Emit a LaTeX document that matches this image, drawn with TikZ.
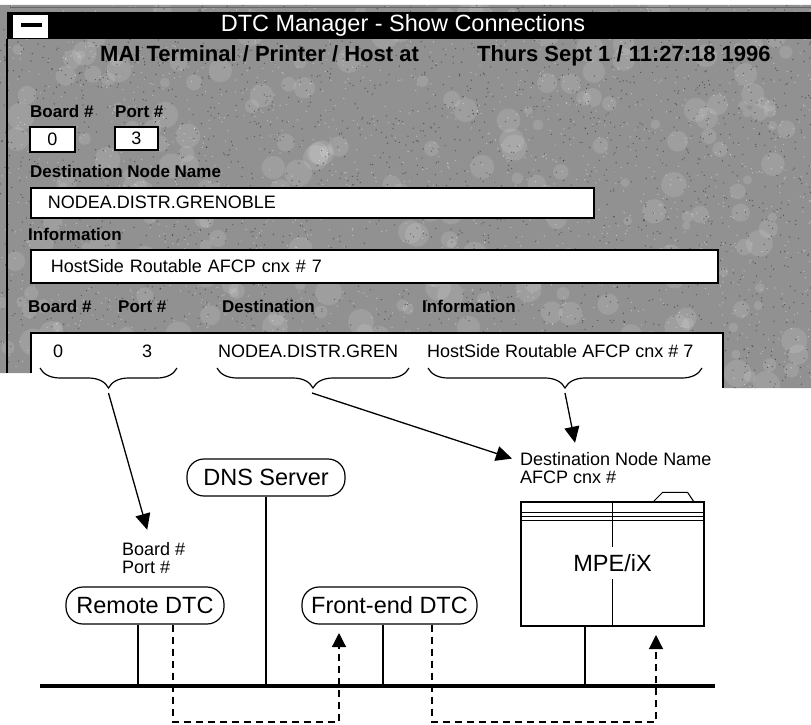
\documentclass[tikz,border=0pt]{standalone}
\usepackage{fontspec}
\setmainfont{Liberation Sans}
\usetikzlibrary{arrows.meta,decorations.pathreplacing,positioning}

\begin{document}
\begin{tikzpicture}[x=1pt,y=-1pt,
    headlbl/.style={inner sep=0pt, anchor=base west, font=\fontsize{17}{17}\selectfont\bfseries},
    plain/.style={inner sep=0pt, anchor=base west, font=\fontsize{18}{18}\selectfont},
    field/.style={draw=black, fill=white, line width=1.6pt, inner ysep=0pt, font=\fontsize{18}{18}\selectfont},
    pill/.style={draw, rounded corners=17pt, minimum height=37pt, inner xsep=8pt, line width=1.2pt, font=\fontsize{23.5}{23.5}\selectfont},
    tiparrow/.style={-{Triangle[length=16pt,width=15pt]}, line width=1.3pt},
    loopline/.style={dash pattern=on 7pt off 5pt, line width=1.2pt, -{Triangle[length=14pt,width=14pt]}},
    bracemark/.style={decorate, decoration={brace, amplitude=20pt}, line width=1.2pt}]

    \definecolor{panel}{gray}{0.57}
    \useasboundingbox (0,0) rectangle (811,725);

    % Window panel with its scanned texture
    \begin{scope}
        \clip (0,5) -- (811,5) -- (811,388) -- (723,388) -- (723,333) -- (31,333) -- (31,373) -- (0,373) -- cycle;
        \fill[panel] (0,0) rectangle (811,400);
        \pgfmathsetseed{17}
        \foreach \i in {1,...,260} {
            \pgfmathsetmacro{\px}{811*rnd}
            \pgfmathsetmacro{\py}{5+385*rnd}
            \pgfmathsetmacro{\pr}{4+10*rnd}
            \fill[white, opacity=0.12] (\px,\py) circle [radius=\pr pt];
        }
        \foreach \i in {1,...,2500} {
            \pgfmathsetmacro{\px}{811*rnd}
            \pgfmathsetmacro{\py}{5+385*rnd}
            \fill[black, opacity=0.4] (\px,\py) circle [radius=0.7pt];
        }
        \foreach \i in {1,...,1800} {
            \pgfmathsetmacro{\px}{811*rnd}
            \pgfmathsetmacro{\py}{5+385*rnd}
            \fill[white, opacity=0.4] (\px,\py) circle [radius=0.7pt];
        }
    \end{scope}

    % Title bar
    \draw[black!60, line width=0.6pt] (10,7) -- (811,7);
    \fill[black] (7,12) rectangle (811,39);
    \node[fill=white, minimum width=35pt, minimum height=23pt, inner sep=0pt] (menu) at (30.5,26.5) {};
    \fill[black] (21,23.5) rectangle (42,27.5);
    \node[text=white, inner sep=0pt, anchor=base, font=\fontsize{23.5}{23.5}\selectfont] (title) at (403,32) {DTC Manager - Show Connections};
    \draw[line width=1.4pt] (7,39) -- (7,373);

    % Header line
    \node[headlbl, font=\fontsize{22}{22}\selectfont\bfseries] (mai) at (100,62) {MAI Terminal / Printer / Host at};
    \node[headlbl, font=\fontsize{22}{22}\selectfont\bfseries] (stamp) at (477,62) {Thurs Sept 1 / 11:27:18 1996};

    % Input fields
    \node[headlbl] (brdhead) at (30,117) {Board \#};
    \node[headlbl] (prthead) at (115,117) {Port \#};
    \node[field, minimum width=45pt, minimum height=25pt] (brdbox) at (52.5,139.5) {0};
    \node[field, minimum width=43pt, minimum height=23pt] (prtbox) at (136.5,138.5) {3};

    \node[headlbl] (dsthead) at (30,177) {Destination Node Name};
    \node[field, anchor=north west, minimum height=30pt, text width=529pt, inner xsep=17pt, align=left] (dstbox) at (30,187) {NODEA.DISTR.GRENOBLE};

    \node[headlbl] (infhead) at (28,240) {Information};
    \node[field, anchor=north west, minimum height=33pt, text width=647pt, inner xsep=20pt, align=left] (infbox) at (30,249) {HostSide Routable AFCP cnx \# 7};

    % Connection list
    \node[headlbl] (colbrd) at (28,312) {Board \#};
    \node[headlbl] (colprt) at (118,312) {Port \#};
    \node[headlbl] (coldst) at (222,312) {Destination};
    \node[headlbl] (colinf) at (422,312) {Information};
    \draw[line width=1.6pt] (31,373) -- (31,333) -- (723,333) -- (723,388);

    \node[plain] (rowbrd) at (53,357) {0};
    \node[plain] (rowprt) at (142,357) {3};
    \node[plain] (rowdst) at (218,357) {NODEA.DISTR.GREN};
    \node[plain] (rowinf) at (427,357) {HostSide Routable AFCP cnx \# 7};

    % Braces under the row
    \draw[bracemark] (177,368) -- (40,368);
    \draw[bracemark] (409,368) -- (217,368);
    \draw[bracemark] (702,368) -- (428,368);
    \coordinate (brA) at (108.5,393);
    \coordinate (brB) at (312,393);
    \coordinate (brC) at (565,393);

    % Labels in the network view
    \node[plain] (brdlbl) at (122,555) {Board \#};
    \node[plain] (prtlbl) at (122,573) {Port \#};
    \node[plain] (dstlbl) at (520,465) {Destination Node Name};
    \node[plain] (cnxlbl) at (520,483) {AFCP cnx \#};

    \draw[tiparrow] (brA) -- ([xshift=-6.5pt,yshift=12pt]brdlbl.north);
    \draw[tiparrow] (brB) -- ([xshift=-8pt]dstlbl.west);
    \draw[tiparrow] (brC) -- ([xshift=55pt,yshift=9pt]dstlbl.north west);

    % Network nodes
    \node[pill, minimum width=158pt] (dns) at (266,477.5) {DNS Server};
    \node[pill, minimum width=158pt] (remote) at (145,605.5) {Remote DTC};
    \node[pill, minimum width=175pt] (front) at (389.5,605.5) {Front-end DTC};

    \node[draw, line width=1.2pt, minimum width=183pt, minimum height=124pt, inner sep=0pt] (host) at (612.5,564) {};
    \draw[line width=1.2pt] (host.north) -- (host.south);
    \foreach \dy in {11,15,19}
        \draw[line width=1pt] ([yshift=-\dy pt]host.north west) -- ([yshift=-\dy pt]host.north east);
    \draw[line width=1pt] ([xshift=-51pt]host.north east) -- ++(9,-9) -- ++(25,0) -- ++(6,9);
    \node[fill=white, inner xsep=2pt, inner ysep=7pt, font=\fontsize{23.5}{23.5}\selectfont] (hostname) at (612.5,563) {MPE/iX};

    % LAN
    \coordinate (busW) at (40,686);
    \coordinate (busE) at (715,686);
    \draw[line width=4.5pt] (busW) -- (busE);

    \coordinate (dropR) at (138,686);
    \coordinate (dropF) at (383,686);
    \coordinate (dropH) at (585,686);
    \draw[line width=1.2pt] (remote.south -| dropR) -- (dropR);
    \draw[line width=1.2pt] (dns.south) -- (dns.south |- busW);
    \draw[line width=1.2pt] (front.south -| dropF) -- (dropF);
    \draw[line width=1.2pt] (host.south -| dropH) -- (dropH);

    % Dashed paths of the connection
    \coordinate (loopR) at (173,722);
    \coordinate (loopF) at (339,722);
    \coordinate (tipF) at (339,633);
    \draw[loopline] (remote.south -| loopR) -- (loopR) -- (loopF) -- (tipF);

    \coordinate (loopA) at (432,722);
    \coordinate (loopH) at (656,722);
    \coordinate (tipH) at (656,635);
    \draw[loopline] (front.south -| loopA) -- (loopA) -- (loopH) -- (tipH);
\end{tikzpicture}
\end{document}
